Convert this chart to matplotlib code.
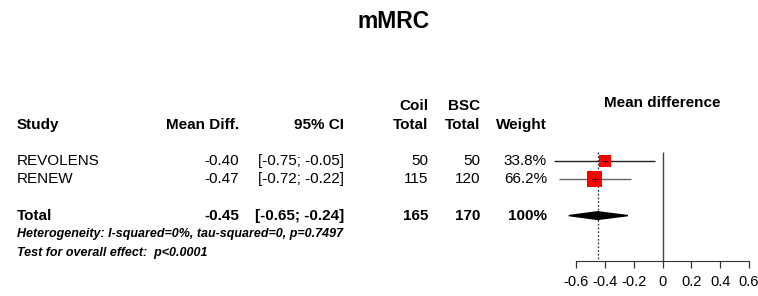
import numpy as np
import matplotlib.pyplot as plt
from matplotlib import transforms
from matplotlib.patches import Polygon

plt.rcParams["font.family"] = ["Liberation Sans", "DejaVu Sans"]

# dados do forest plot
estudos = ["REVOLENS", "RENEW"]
media_dif = [-0.40, -0.47]
ic_inf = [-0.75, -0.72]
ic_sup = [-0.05, -0.22]
coil_n = [50, 115]
bsc_n = [50, 120]
pesos = [33.8, 66.2]

total_media = -0.45
total_inf = -0.65
total_sup = -0.24
total_coil = 165
total_bsc = 170

ticks = [-0.6, -0.4, -0.2, 0, 0.2, 0.4, 0.6]
tick_labels = ["-0.6", "-0.4", "-0.2", "0", "0.2", "0.4", "0.6"]

W, H = 758, 296
fig = plt.figure(figsize=(W / 100, H / 100), dpi=100)

# eixo do forest: linhas em unidades de "linha da tabela"
y0_px, dy_px = 142.4, 18.3
ymax = 6.5
x_esq, x_dir = 548, 758
zero_px, escala = 662.5, 144.2
ax = fig.add_axes([x_esq / W, 1 - (y0_px + dy_px * ymax) / H,
                   (x_dir - x_esq) / W, dy_px * ymax / H])
ax.set_xlim((x_esq - zero_px) / escala, (x_dir - zero_px) / escala)
ax.set_ylim(ymax, 0)

for s in ["top", "right", "left"]:
    ax.spines[s].set_visible(False)
ax.spines["bottom"].set_bounds(ticks[0], ticks[-1])
ax.spines["bottom"].set_color("#333333")
ax.set_yticks([])
ax.set_xticks(ticks)
ax.set_xticklabels(tick_labels)
ax.tick_params(axis="x", direction="out", length=5, width=0.9,
               color="#333333", labelsize=10.5, pad=5)
ax.patch.set_alpha(0)

linhas = [1, 2]
linha_total = 4

ax.vlines(0, 0.5, ymax, color="#444444", lw=1.0)
ax.vlines(total_media, 0.5, ymax, color="#333333", lw=0.9, linestyles=(0, (1.5, 1.5)))

cores_linha = ["#222222", "#666666"]
tam = [75, 120]
for i, y in enumerate(linhas):
    ax.hlines(y, ic_inf[i], ic_sup[i], color=cores_linha[i], lw=1.0, zorder=2)
    ax.scatter(media_dif[i], y, marker="s", s=tam[i], color="#ff0000",
               edgecolor="none", zorder=3)
    ax.scatter(media_dif[i], y, marker="+", s=20, color="black", lw=0.6, zorder=4)

h = 0.21
ax.add_patch(Polygon([[total_inf, linha_total], [total_media, linha_total - h],
                      [total_sup, linha_total], [total_media, linha_total + h]],
                     closed=True, color="black", zorder=3))

# textos da tabela
tr = transforms.blended_transform_factory(fig.transFigure, ax.transData)
col = {"study": 17, "md": 239, "ci": 344, "coil": 428, "bsc": 480, "w": 547}


def px(n):
    return n / W


fs = 11
fig.text(px(393.5), 1 - 21 / H, "mMRC", ha="center", va="center",
         fontsize=16.5, fontweight="bold")

cab = -0.95
ax.text(px(col["study"]), cab, "Study", transform=tr, ha="left", va="center",
        fontsize=fs, fontweight="bold")
ax.text(px(col["md"]), cab, "Mean Diff.", transform=tr, ha="right", va="center",
        fontsize=fs, fontweight="bold")
ax.text(px(col["ci"]), cab, "95% CI", transform=tr, ha="right", va="center",
        fontsize=fs, fontweight="bold")
ax.text(px(col["coil"]), cab, "Total", transform=tr, ha="right", va="center",
        fontsize=fs, fontweight="bold")
ax.text(px(col["coil"]), -2.0, "Coil", transform=tr, ha="right", va="center",
        fontsize=fs, fontweight="bold")
ax.text(px(col["bsc"]), cab, "Total", transform=tr, ha="right", va="center",
        fontsize=fs, fontweight="bold")
ax.text(px(col["bsc"]), -2.0, "BSC", transform=tr, ha="right", va="center",
        fontsize=fs, fontweight="bold")
ax.text(px(col["w"]), cab, "Weight", transform=tr, ha="right", va="center",
        fontsize=fs, fontweight="bold")
ax.text(0, -2.15, "Mean difference", ha="center", va="center",
        fontsize=fs, fontweight="bold", clip_on=False)

for i, y in enumerate(linhas):
    ax.text(px(col["study"]), y, estudos[i], transform=tr, ha="left", va="center", fontsize=fs)
    ax.text(px(col["md"]), y, f"{media_dif[i]:.2f}", transform=tr, ha="right",
            va="center", fontsize=fs)
    ax.text(px(col["ci"]), y, f"[{ic_inf[i]:.2f}; {ic_sup[i]:.2f}]", transform=tr,
            ha="right", va="center", fontsize=fs)
    ax.text(px(col["coil"]), y, str(coil_n[i]), transform=tr, ha="right", va="center", fontsize=fs)
    ax.text(px(col["bsc"]), y, str(bsc_n[i]), transform=tr, ha="right", va="center", fontsize=fs)
    ax.text(px(col["w"]), y, f"{pesos[i]:.1f}%", transform=tr, ha="right", va="center", fontsize=fs)

y = linha_total
ax.text(px(col["study"]), y, "Total", transform=tr, ha="left", va="center",
        fontsize=fs, fontweight="bold")
ax.text(px(col["md"]), y, f"{total_media:.2f}", transform=tr, ha="right",
        va="center", fontsize=fs, fontweight="bold")
ax.text(px(col["ci"]), y, f"[{total_inf:.2f}; {total_sup:.2f}]", transform=tr,
        ha="right", va="center", fontsize=fs, fontweight="bold")
ax.text(px(col["coil"]), y, str(total_coil), transform=tr, ha="right", va="center",
        fontsize=fs, fontweight="bold")
ax.text(px(col["bsc"]), y, str(total_bsc), transform=tr, ha="right", va="center",
        fontsize=fs, fontweight="bold")
ax.text(px(col["w"]), y, "100%", transform=tr, ha="right", va="center",
        fontsize=fs, fontweight="bold")

ax.text(px(col["study"]), 4.98, "Heterogeneity: I-squared=0%, tau-squared=0, p=0.7497",
        transform=tr, ha="left", va="center", fontsize=9, fontweight="bold",
        style="italic")
ax.text(px(col["study"]), 6.02, "Test for overall effect:  p<0.0001",
        transform=tr, ha="left", va="center", fontsize=9, fontweight="bold",
        style="italic")

fig.savefig("out.png", dpi=100)
